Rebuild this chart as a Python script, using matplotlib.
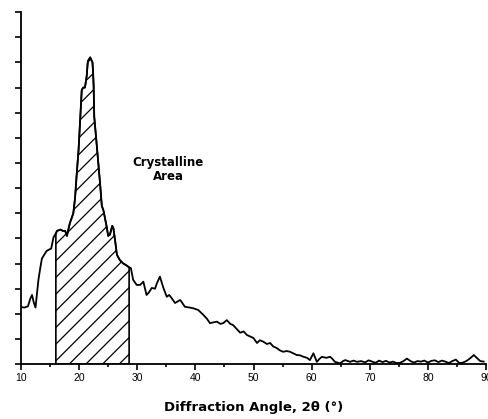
"""XRD pattern with hatched crystalline area, 10-90 deg 2theta."""

import matplotlib
import numpy as np

matplotlib.use("Agg")
import matplotlib.pyplot as plt

plt.rcParams["font.family"] = ["Liberation Sans", "DejaVu Sans"]
plt.rcParams["hatch.linewidth"] = 0.9

# diffraction angle (deg) and intensity (arb. units)
two_theta = [
    10.0, 10.6, 11.2, 11.6, 11.9, 12.2, 12.5, 12.8, 13.0, 13.3, 13.6, 14.0,
    14.4, 14.8, 15.2, 15.6, 16.0, 16.2, 16.8, 17.2, 17.6, 17.9, 18.4, 19.0,
    19.3, 19.6, 19.9, 20.2, 20.45, 20.7, 21.0, 21.3, 21.5, 21.9, 22.3, 22.4,
    22.5, 22.6, 23.0, 23.6, 23.9, 24.2, 24.75, 25.0, 25.3, 25.7, 25.9, 26.2,
    26.5, 27.0, 27.6, 28.0, 28.6, 28.9, 29.3, 29.9, 30.5, 31.05, 31.6, 32.0,
    32.5, 33.06, 33.35, 33.9, 34.5, 35.08, 35.5, 35.9, 36.5, 37.0, 37.4, 38.2,
    39.0, 39.66, 40.5, 41.4, 42.0, 42.5, 43.1, 43.7, 44.3, 44.8, 45.4, 46.0,
    46.5, 47.1, 47.7, 48.3, 48.85, 49.4, 49.98, 50.6, 51.1, 51.7, 52.3, 52.86,
    53.4, 54.0, 54.5, 55.1, 55.7, 56.3, 56.9, 57.45, 58.0, 58.6, 59.2, 59.7,
    60.3, 60.9, 61.3, 61.75, 62.5, 63.2, 63.6, 64.0, 64.9, 65.4, 65.8, 66.6,
    67.2, 67.8, 68.5, 69.2, 69.8, 70.4, 71.0, 71.6, 72.2, 72.8, 73.4, 74.0,
    74.6, 75.2, 75.8, 76.4, 77.0, 77.6, 78.2, 78.8, 79.4, 80.0, 80.6, 81.2,
    81.8, 82.4, 83.0, 83.6, 84.2, 84.8, 85.4, 86.0, 86.6, 87.2, 87.9, 88.4,
    89.0, 89.6,
]
intensity = [
    2.27, 2.25, 2.3, 2.6, 2.75, 2.45, 2.25, 2.9, 3.35, 3.8, 4.2, 4.35,
    4.5, 4.55, 4.6, 5.05, 5.2, 5.3, 5.35, 5.3, 5.3, 5.1, 5.6, 6.0,
    6.6, 7.6, 8.5, 9.8, 10.9, 11.0, 11.0, 11.45, 12.05, 12.2, 12.0, 11.6,
    11.05, 9.85, 8.8, 7.2, 6.3, 6.1, 5.45, 5.1, 5.15, 5.5, 5.4, 4.9,
    4.35, 4.14, 4.0, 3.95, 3.85, 3.82, 3.35, 3.15, 3.15, 3.28, 2.75, 2.85,
    3.03, 3.0, 3.2, 3.48, 3.03, 2.68, 2.75, 2.63, 2.43, 2.5, 2.55, 2.28,
    2.25, 2.22, 2.15, 1.95, 1.8, 1.63, 1.66, 1.69, 1.6, 1.63, 1.75, 1.6,
    1.55, 1.4, 1.25, 1.3, 1.16, 1.1, 1.04, 0.84, 0.95, 0.89, 0.8, 0.84,
    0.7, 0.64, 0.55, 0.49, 0.52, 0.49, 0.42, 0.36, 0.35, 0.29, 0.25, 0.16,
    0.43, 0.09, 0.2, 0.29, 0.25, 0.29, 0.2, 0.09, 0.03, 0.12, 0.16, 0.09,
    0.14, 0.09, 0.12, 0.07, 0.15, 0.1, 0.05, 0.14, 0.08, 0.13, 0.06, 0.1,
    0.04, 0.05, 0.12, 0.22, 0.12, 0.06, 0.12, 0.1, 0.14, 0.06, 0.13, 0.15,
    0.08, 0.14, 0.1, 0.04, 0.12, 0.18, 0.04, 0.06, 0.12, 0.22, 0.36, 0.25,
    0.12, 0.1,
]
cryst_lo, cryst_hi = 16.0, 28.6
x_ticks = [10, 20, 30, 40, 50, 60, 70, 80, 90]

x = np.array(two_theta)
y = np.array(intensity)

fig = plt.figure(figsize=(4.88, 4.19), dpi=100)
ax = fig.add_axes([0.043, 0.131, 0.953, 0.84])

mask = (x >= cryst_lo) & (x <= cryst_hi)
ax.fill_between(x[mask], 0, y[mask], facecolor="white", edgecolor="black",
                hatch="//", linewidth=1.2)
ax.plot(x, y, color="black", lw=1.3)

ax.set_xlim(10, 90)
ax.set_ylim(0, 14)
ax.set_xticks(x_ticks)
ax.set_xticks(np.arange(15, 90, 10), minor=True)
ax.set_yticks(np.arange(0, 15, 1))
ax.set_yticklabels([])
ax.tick_params(axis="x", which="major", direction="out", length=4.5,
               width=1.2, labelsize=7.5, pad=2)
ax.tick_params(axis="x", which="minor", direction="out", length=2.5,
               width=1.2)
ax.tick_params(axis="y", direction="out", length=4.5, width=1.2)

for side in ("top", "right"):
    ax.spines[side].set_visible(False)
for side in ("left", "bottom"):
    ax.spines[side].set_linewidth(1.3)

ax.text(35.3, 7.75, "Crystalline\nArea", ha="center", va="center",
        fontsize=8.5, fontweight="bold", linespacing=1.1,
        family="DejaVu Sans")
ax.set_xlabel("Diffraction Angle, 2\u03b8 (\u00b0)", fontsize=9.5,
              fontweight="bold", labelpad=13, family="DejaVu Sans")

fig.savefig("out.png", dpi=100)
